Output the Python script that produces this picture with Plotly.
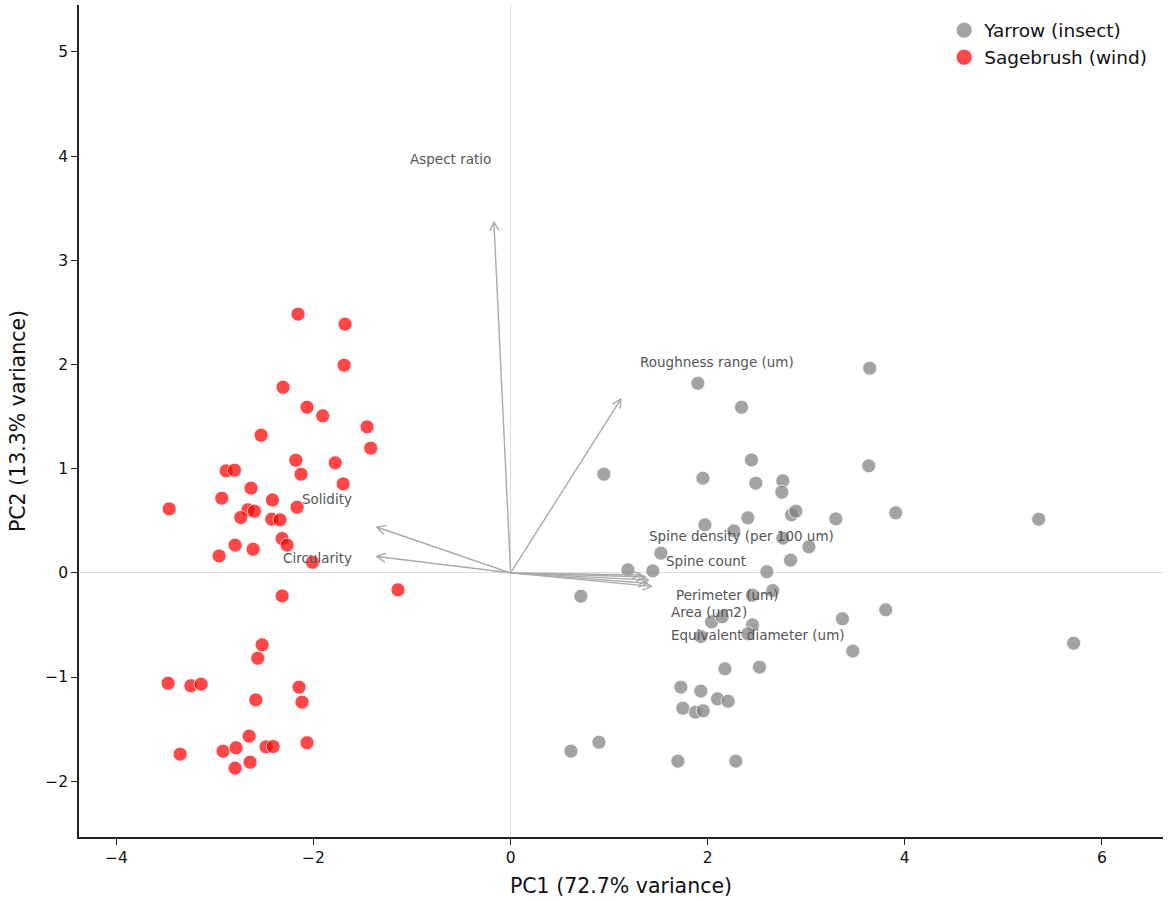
import numpy as np
import plotly.graph_objects as go

# ---------------- data ----------------
sage_x = [-2.157, -1.68, -1.69, -2.309, -2.066, -1.907, -1.457, -1.42, -2.532, -2.18,
          -1.78, -2.127, -1.70, -2.887, -2.802, -2.634, -2.931, -3.465, -2.417, -2.167,
          -2.667, -2.60, -2.738, -2.424, -2.34, -2.319, -2.268, -2.796, -2.613, -2.958,
          -2.011, -2.319, -1.143, -2.522, -2.566, -3.476, -3.245, -3.141, -2.586, -2.147,
          -2.117, -2.654, -2.066, -3.354, -2.918, -2.786, -2.482, -2.41, -2.644, -2.796]
sage_y = [2.483, 2.387, 1.993, 1.782, 1.59, 1.507, 1.401, 1.197, 1.321, 1.081,
          1.056, 0.947, 0.854, 0.979, 0.985, 0.813, 0.717, 0.614, 0.70, 0.63,
          0.605, 0.592, 0.531, 0.515, 0.509, 0.329, 0.266, 0.266, 0.227, 0.163,
          0.102, -0.221, -0.163, -0.691, -0.819, -1.059, -1.084, -1.068, -1.219, -1.097,
          -1.241, -1.567, -1.631, -1.74, -1.711, -1.679, -1.67, -1.667, -1.817, -1.874]

yarrow_x = [3.644, 1.90, 2.343, 0.946, 1.951, 2.444, 2.488, 2.762, 2.752, 3.634,
            3.908, 3.30, 2.85, 2.894, 2.407, 1.971, 2.265, 2.762, 3.026, 1.525,
            2.84, 1.19, 1.443, 2.60, 0.713, 2.454, 2.66, 3.806, 3.367, 2.039,
            2.147, 2.454, 2.407, 1.93, 3.472, 2.174, 2.525, 1.727, 1.93, 2.099,
            2.207, 1.748, 1.876, 1.954, 0.612, 0.896, 1.697, 2.285, 5.358, 5.713]
yarrow_y = [1.964, 1.82, 1.59, 0.947, 0.909, 1.084, 0.861, 0.883, 0.774, 1.027,
            0.576, 0.518, 0.557, 0.592, 0.528, 0.461, 0.403, 0.333, 0.25, 0.189,
            0.122, 0.029, 0.019, 0.01, -0.224, -0.214, -0.17, -0.355, -0.441, -0.47,
            -0.422, -0.499, -0.585, -0.611, -0.751, -0.921, -0.905, -1.097, -1.135, -1.209,
            -1.232, -1.299, -1.337, -1.324, -1.711, -1.625, -1.807, -1.807, 0.515, -0.675]

features = ["Aspect ratio", "Roughness range (um)", "Solidity", "Circularity",
            "Spine density (per 100 um)", "Spine count", "Perimeter (um)",
            "Area (um2)", "Equivalent diameter (um)"]
load_x = [-0.17, 1.12, -1.36, -1.36, 1.32, 1.37, 1.40, 1.39, 1.43]
load_y = [3.37, 1.67, 0.44, 0.157, -0.02, -0.04, -0.07, -0.10, -0.13]
label_x = [-0.61, 2.09, -1.86, -1.96, 2.34, 1.98, 2.20, 2.01, 2.51]
label_y = [3.97, 2.02, 0.71, 0.144, 0.355, 0.115, -0.21, -0.38, -0.595]

x_title = "PC1 (72.7% variance)"
y_title = "PC2 (13.3% variance)"
x_ticks = [-4, -2, 0, 2, 4, 6]
y_ticks = [-2, -1, 0, 1, 2, 3, 4, 5]

# ---------------- layout geometry ----------------
W, H = 1169, 901
ML, MR, MT, MB = 78.5, 6, 5, 64
XR = [-4.38, 6.62]
YR = [-2.535, 5.45]
sx = (W - ML - MR) / (XR[1] - XR[0])
sy = (H - MT - MB) / (YR[1] - YR[0])

# arrow lines + open chevron heads computed in pixel space
head_len, head_half = 9.0, 4.5
ax_, ay_ = [], []
for tx, ty in zip(load_x, load_y):
    ax_ += [0, tx, None]
    ay_ += [0, ty, None]
    dx, dy = tx * sx, ty * sy
    n = np.hypot(dx, dy)
    ux, uy = dx / n, dy / n
    px, py = -uy, ux
    for s in (1, -1):
        hx = tx + (-head_len * ux + s * head_half * px) / sx
        hy = ty + (-head_len * uy + s * head_half * py) / sy
        ax_ += [hx, tx, None]
        ay_ += [hy, ty, None]

marker_edge = dict(color="rgba(255,255,255,0.9)", width=0.8)
grey_c = "rgba(128,128,128,0.72)"
red_c = "rgba(255,0,0,0.72)"

fig = go.Figure()
fig.add_trace(go.Scatter(
    x=yarrow_x, y=yarrow_y, mode="markers", name="Yarrow (insect)", showlegend=False,
    marker=dict(size=14, color=grey_c, line=marker_edge)))
fig.add_trace(go.Scatter(
    x=sage_x, y=sage_y, mode="markers", name="Sagebrush (wind)", showlegend=False,
    marker=dict(size=14, color=red_c, line=marker_edge)))
fig.add_trace(go.Scatter(
    x=ax_, y=ay_, mode="lines", showlegend=False, hoverinfo="skip",
    line=dict(color="#aaaaaa", width=1.4)))
# legend entries (larger markers, as in the reference legend)
fig.add_trace(go.Scatter(x=[None], y=[None], mode="markers", name="Yarrow (insect)",
                         marker=dict(size=17, color=grey_c, line=marker_edge)))
fig.add_trace(go.Scatter(x=[None], y=[None], mode="markers", name="Sagebrush (wind)",
                         marker=dict(size=17, color=red_c, line=marker_edge)))

for name, lx, ly in zip(features, label_x, label_y):
    fig.add_annotation(x=lx, y=ly, text=name, showarrow=False,
                       xanchor="center", yanchor="middle",
                       font=dict(family="DejaVu Sans", size=13.5, color="#555555"))

axis_common = dict(showline=True, linecolor="#222222", linewidth=1.5, mirror=False,
                   ticks="outside", ticklen=6, tickwidth=1.4, tickcolor="#222222",
                   showgrid=False, zeroline=True, zerolinecolor="#dddddd",
                   zerolinewidth=1.2,
                   tickfont=dict(family="DejaVu Sans", size=15.5, color="#111111"),
                   title_font=dict(family="DejaVu Sans", size=20.5, color="#111111"))

def fmt(v):
    return "\u2212" + str(-v) if v < 0 else str(v)

fig.update_layout(
    width=W, height=H,
    margin=dict(l=ML, r=MR, t=MT, b=MB),
    paper_bgcolor="white", plot_bgcolor="white",
    font=dict(family="DejaVu Sans"),
    xaxis=dict(range=XR, tickvals=x_ticks, ticktext=[fmt(v) for v in x_ticks],
               title=dict(text=x_title, standoff=12), **axis_common),
    yaxis=dict(range=YR, tickvals=y_ticks, ticktext=[fmt(v) for v in y_ticks],
               title=dict(text=y_title, standoff=14), **axis_common),
    legend=dict(x=0.99, y=0.992, xanchor="right", yanchor="top",
                bgcolor="rgba(255,255,255,0)",
                font=dict(family="DejaVu Sans", size=18.5, color="#111111"),
                itemsizing="trace", tracegroupgap=2, itemwidth=30),
    showlegend=True,
)

fig.write_html("out.html")
